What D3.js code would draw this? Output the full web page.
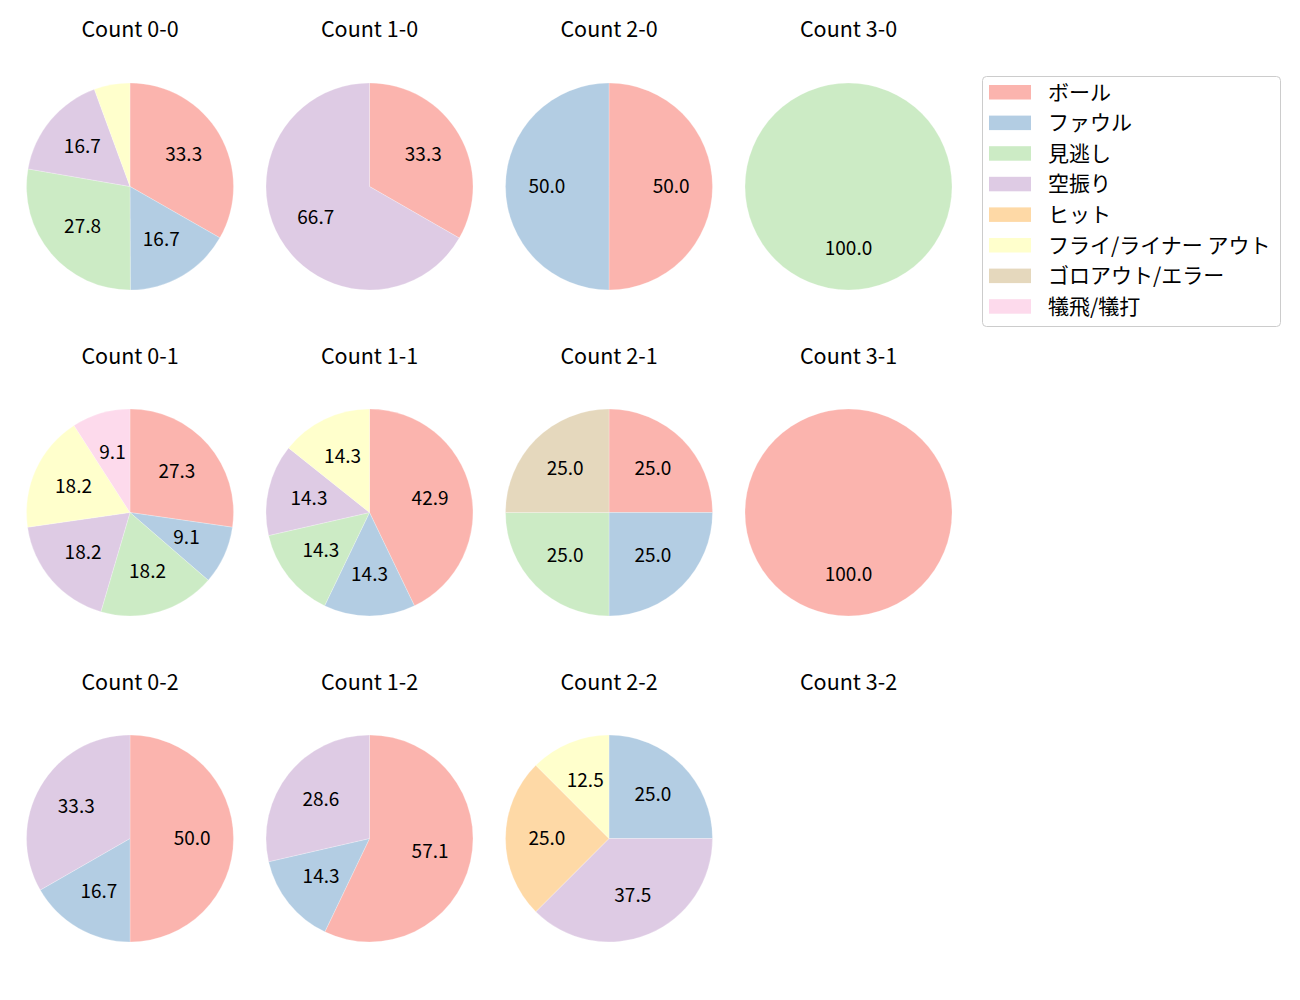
<!DOCTYPE html>
<html><head><meta charset="utf-8">
<script src="https://cdn.jsdelivr.net/npm/d3@7"></script>
<style>
html,body{margin:0;padding:0;background:#fff;}
text{font-family:"Noto Sans CJK JP","Noto Sans",sans-serif;}
</style></head>
<body><svg id="chart" width="1300" height="1000"></svg>
<script>
const categories = ["ボール","ファウル","見逃し","空振り","ヒット","フライ/ライナー アウト","ゴロアウト/エラー","犠飛/犠打"];
const colors = ["#fbb4ae","#b3cde3","#ccebc5","#decbe4","#fed9a6","#ffffcc","#e5d8bd","#fddaec"];
const countTitles = ["Count 0-0","Count 1-0","Count 2-0","Count 3-0",
                     "Count 0-1","Count 1-1","Count 2-1","Count 3-1",
                     "Count 0-2","Count 1-2","Count 2-2","Count 3-2"];
// percentages per category (order as categories)
const c00 = [33.3,16.7,27.8,16.7,0,5.6,0,0];
const c10 = [33.3,0,0,66.7,0,0,0,0];
const c20 = [50.0,50.0,0,0,0,0,0,0];
const c30 = [0,0,100.0,0,0,0,0,0];
const c01 = [27.3,9.1,18.2,18.2,0,18.2,0,9.1];
const c11 = [42.9,14.3,14.3,14.3,0,14.3,0,0];
const c21 = [25.0,25.0,25.0,0,0,0,25.0,0];
const c31 = [100.0,0,0,0,0,0,0,0];
const c02 = [50.0,16.7,0,33.3,0,0,0,0];
const c12 = [57.1,14.3,0,28.6,0,0,0,0];
const c22 = [0,25.0,0,37.5,25.0,12.5,0,0];
const c32 = [];
const seriesList = [c00,c10,c20,c30,c01,c11,c21,c31,c02,c12,c22,c32];

const svg = d3.select("#chart");
const colX = [130,369.5,609,848.5];
const rowY = [186.5,512.5,838.5];
const titleY = [29,356,682];
const R = 103.5;

const color = d3.scaleOrdinal().domain(categories).range(colors);
const pie = d3.pie().sort(null).value(d=>d.v).startAngle(0).endAngle(2*Math.PI);
const arc = d3.arc().innerRadius(0).outerRadius(R);
const labelArc = d3.arc().innerRadius(R*0.6).outerRadius(R*0.6);

seriesList.forEach((vals,i)=>{
  const col = i%4, row = Math.floor(i/4);
  const g = svg.append("g").attr("transform",`translate(${colX[col]},${rowY[row]})`);
  svg.append("text").attr("x",colX[col]).attr("y",titleY[row]-1.5)
    .attr("text-anchor","middle").attr("dominant-baseline","central")
    .attr("font-size",21.5).attr("fill","#000").text(countTitles[i]);
  const data = vals.map((v,k)=>({cat:categories[k],v})).filter(d=>d.v>0);
  if(!data.length) return;
  const arcs = pie(data);
  g.selectAll("path").data(arcs).enter().append("path")
    .attr("d",arc).attr("fill",d=>color(d.data.cat))
    .attr("stroke","#fff").attr("stroke-width",0.4).attr("stroke-opacity",0.6);
  g.selectAll("text").data(arcs.filter(d=>d.data.v>=6)).enter().append("text")
    .attr("transform",d=>{const c=labelArc.centroid(d);return `translate(${c[0]},${c[1]-2.5})`;})
    .attr("text-anchor","middle").attr("dominant-baseline","central")
    .attr("font-size",19).attr("fill","#000")
    .text(d=>d.data.v.toFixed(1));
});

// legend
const lg = svg.append("g");
lg.append("rect").attr("x",982.5).attr("y",76.5).attr("width",298).attr("height",250)
  .attr("rx",4).attr("fill","#fff").attr("stroke","#cccccc").attr("stroke-width",1);
categories.forEach((c,k)=>{
  const y = 92 + k*30.6;
  lg.append("rect").attr("x",989).attr("y",y-7).attr("width",42).attr("height",14.5).attr("fill",color(c));
  lg.append("text").attr("x",1048).attr("y",y-1.5).attr("dominant-baseline","central")
    .attr("font-size",21).attr("fill","#000").text(c);
});
</script></body></html>
